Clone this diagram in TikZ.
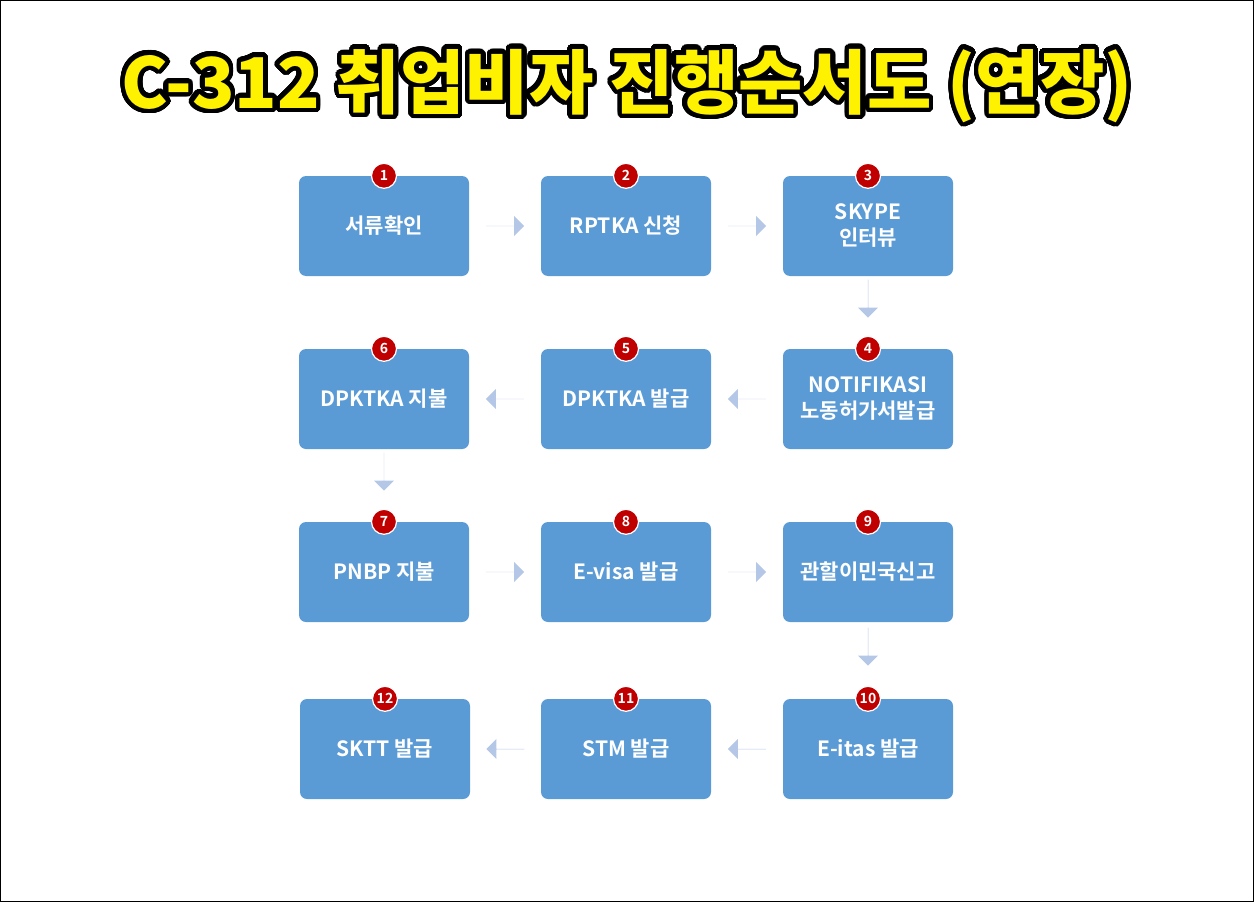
\documentclass[tikz,border=0pt]{standalone}
\usepackage{fontspec}
\setmainfont{Noto Sans CJK KR}[BoldFont={* Bold}]
\newfontfamily\titlefont{Noto Sans CJK KR Black}
\usepackage{contour}
\contourlength{4.5pt}
\contournumber{48}
\usetikzlibrary{shapes.arrows,calc}
\definecolor{boxblue}{HTML}{5B9BD5}
\definecolor{arrblue}{HTML}{B4C7E7}
\definecolor{numred}{HTML}{C00000}
\begin{document}
\begin{tikzpicture}[x=1pt,y=-1pt,
  stepbox/.style={fill=boxblue,rounded corners=7pt,minimum width=170pt,minimum height=100pt,text=white,font=\fontsize{21}{26}\selectfont\bfseries,align=center,inner sep=2pt},
  num/.style={circle,fill=numred,draw=white,line width=1.2pt,minimum size=25pt,inner sep=0pt,text=white,font=\fontsize{14}{15}\selectfont\bfseries},
  arr/.style={single arrow,fill=arrblue,minimum width=20pt,single arrow head extend=8pt,single arrow head indent=0pt,minimum height=38pt,inner sep=0pt}]
\useasboundingbox (0,0) rectangle (1254,902);
\draw[line width=1pt] (0.5,0.5) rectangle (1253.5,901.5);
\node (title) at (627,88) {\titlefont\fontsize{70}{74}\selectfont\contour{black}{\textcolor{yellow}{C-312 취업비자 진행순서도 (연장)}}};
\foreach \n/\x/\y/\t in {
 1/384/226/서류확인, 2/626/226/RPTKA 신청, 3/868/226/{SKYPE\\인터뷰},
 4/868/399/{NOTIFIKASI\\노동허가서발급}, 5/626/399/DPKTKA 발급, 6/384/399/DPKTKA 지불,
 7/384/572/PNBP 지불, 8/626/572/E-visa 발급, 9/868/572/관할이민국신고,
 10/868/749/E-itas 발급, 11/626/749/STM 발급, 12/385/749/SKTT 발급}{
  \node[stepbox] (b\n) at (\x,\y) {\t};
  \node[num] (n\n) at (b\n.north) {\n};
}
\node[arr] (a12) at ($(b1)!0.5!(b2)$) {};
\node[arr] (a23) at ($(b2)!0.5!(b3)$) {};
\node[arr,rotate=-90] (a34) at ($(b3)!0.5!(b4)+(0,-14)$) {};
\node[arr,rotate=180] (a45) at ($(b4)!0.5!(b5)$) {};
\node[arr,rotate=180] (a56) at ($(b5)!0.5!(b6)$) {};
\node[arr,rotate=-90] (a67) at ($(b6)!0.5!(b7)+(0,-14)$) {};
\node[arr] (a78) at ($(b7)!0.5!(b8)$) {};
\node[arr] (a89) at ($(b8)!0.5!(b9)$) {};
\node[arr,rotate=-90] (a910) at ($(b9)!0.5!(b10)+(0,-14)$) {};
\node[arr,rotate=180] (a1011) at ($(b10)!0.5!(b11)$) {};
\node[arr,rotate=180] (a1112) at ($(b11)!0.5!(b12)$) {};
\end{tikzpicture}
\end{document}
